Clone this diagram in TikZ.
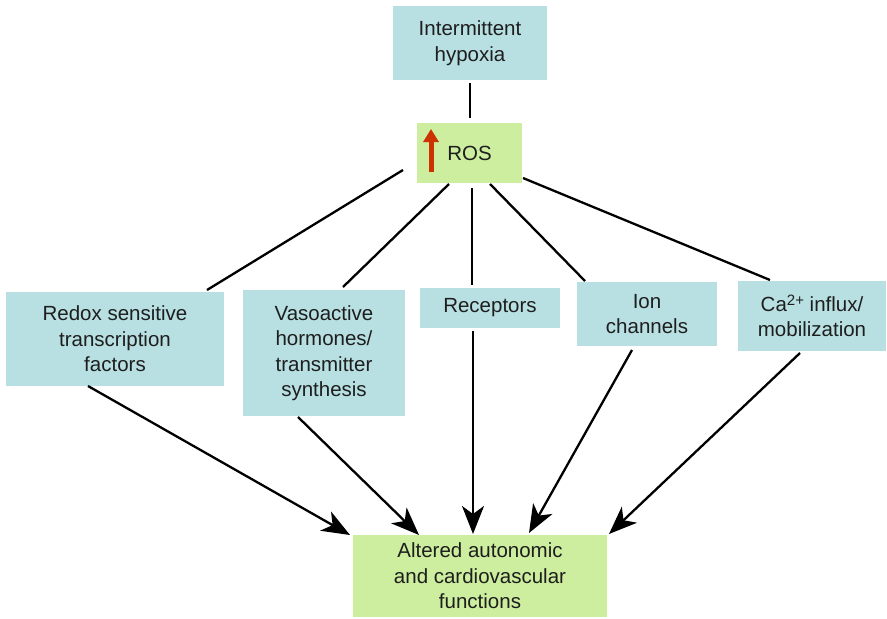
\documentclass[tikz,border=0pt]{standalone}
\usepackage{fontspec}
\setmainfont{Liberation Sans}
\usetikzlibrary{arrows.meta}
\definecolor{boxblue}{RGB}{184,224,226}
\definecolor{boxgreen}{RGB}{204,238,158}
\definecolor{rosred}{RGB}{204,51,0}
\definecolor{txt}{RGB}{30,30,30}
\begin{document}
\begin{tikzpicture}[x=1pt,y=-1pt,
  bbox/.style={fill=boxblue,draw=none,inner sep=0pt,align=center,text=txt,
    font=\fontsize{20.5}{25.5}\selectfont},
  gbox/.style={bbox,fill=boxgreen},
  conn/.style={line width=2.3pt,black},
  arr/.style={conn,-{Stealth[length=28pt,width=22pt,inset=8pt]}}]
\useasboundingbox (0,0) rectangle (887,619);
\node[bbox,minimum width=154pt,minimum height=74pt] (hyp) at (470,43) {Intermittent\\hypoxia};
\node[gbox,minimum width=105pt,minimum height=60pt] (ros) at (469.5,153) {ROS};
\node[bbox,minimum width=218pt,minimum height=94pt] (redox) at (115,339) {Redox sensitive\\transcription\\factors};
\node[bbox,minimum width=162pt,minimum height=126pt] (vaso) at (324,353) {Vasoactive\\hormones/\\transmitter\\synthesis};
\node[bbox,minimum width=140pt,minimum height=40pt] (rec) at (490,308) {Receptors};
\node[bbox,minimum width=140pt,minimum height=64pt] (ion) at (647,314) {Ion\\channels};
\node[bbox,minimum width=148pt,minimum height=70pt] (ca) at (812,316) {Ca{\fontsize{15}{15}\selectfont\raisebox{6pt}{2+}} influx/\\mobilization};
\node[gbox,minimum width=254pt,minimum height=82pt] (alt) at (480,576) {Altered autonomic\\and cardiovascular\\functions};
% red up arrow in ROS
\coordinate (ra1) at (431,172);
\coordinate (ra2) at (431,129);
\draw[rosred,line width=5pt,-{Triangle[length=13pt,width=15pt]}] (ra1) -- (ra2);
% connectors
\coordinate (h1) at (470,83); \coordinate (h2) at (470,118);
\draw[conn] (h1) -- (h2);
\coordinate (r1) at (403,170); \coordinate (r2) at (207,290);
\draw[conn] (r1) -- (r2);
\coordinate (v1) at (449,184); \coordinate (v2) at (343,287);
\draw[conn] (v1) -- (v2);
\coordinate (c1) at (472,188); \coordinate (c2) at (472,285);
\draw[conn] (c1) -- (c2);
\coordinate (i1) at (490,184); \coordinate (i2) at (585,281);
\draw[conn] (i1) -- (i2);
\coordinate (k1) at (523,178); \coordinate (k2) at (770,280);
\draw[conn] (k1) -- (k2);
% arrows to altered
\coordinate (a1) at (88,386); \coordinate (a2) at (350,535);
\draw[arr] (a1) -- (a2);
\coordinate (b1) at (298,417); \coordinate (b2) at (419,535);
\draw[arr] (b1) -- (b2);
\coordinate (d1) at (473,331); \coordinate (d2) at (473,534);
\draw[arr] (d1) -- (d2);
\coordinate (e1) at (632,350); \coordinate (e2) at (529,533);
\draw[arr] (e1) -- (e2);
\coordinate (f1) at (800,353); \coordinate (f2) at (609,534);
\draw[arr] (f1) -- (f2);
\end{tikzpicture}
\end{document}
